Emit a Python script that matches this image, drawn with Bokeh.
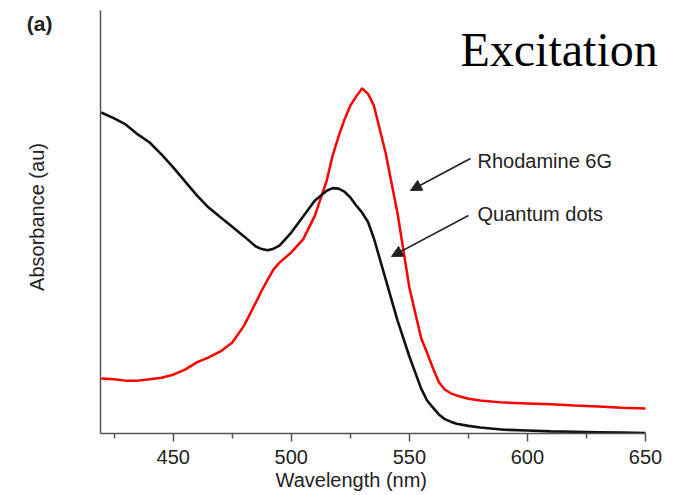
import math
from bokeh.plotting import figure
from bokeh.models import Range1d, FixedTicker, Label, Arrow, NormalHead, Title
from bokeh.embed import file_html
from bokeh.resources import INLINE

# ---- data ----
wavelength = [419.5, 425, 430, 435, 440, 445, 450, 455, 460, 465, 470, 475, 480, 485,
              487.5, 490, 492.5, 495, 500, 505, 510, 515, 517.5, 520, 522.5, 525,
              527.5, 530, 532.5, 535, 540, 545, 550, 555, 557.5, 560, 562.5, 565,
              567.5, 570, 575, 580, 590, 600, 610, 620, 630, 640, 650]
quantum_dots = [0.759, 0.745, 0.730, 0.707, 0.688, 0.660, 0.629, 0.596, 0.563, 0.534,
                0.511, 0.489, 0.466, 0.442, 0.436, 0.433, 0.437, 0.444, 0.475, 0.513,
                0.551, 0.574, 0.580, 0.579, 0.572, 0.558, 0.539, 0.522, 0.500, 0.461,
                0.364, 0.267, 0.182, 0.106, 0.078, 0.061, 0.045, 0.034, 0.028, 0.023,
                0.018, 0.014, 0.009, 0.007, 0.005, 0.004, 0.003, 0.002, 0.001]
rhodamine_6g = [0.130, 0.128, 0.125, 0.125, 0.128, 0.132, 0.139, 0.151, 0.168, 0.180,
                0.194, 0.215, 0.255, 0.310, 0.338, 0.364, 0.388, 0.404, 0.428, 0.459,
                0.515, 0.598, 0.657, 0.702, 0.742, 0.775, 0.797, 0.816, 0.803, 0.775,
                0.662, 0.520, 0.345, 0.225, 0.191, 0.154, 0.121, 0.104, 0.095, 0.090,
                0.082, 0.078, 0.073, 0.071, 0.069, 0.066, 0.064, 0.061, 0.059]
major_ticks = [450, 500, 550, 600, 650]
minor_ticks = [425, 475, 525, 575, 625]
x_start, x_end = 419.2, 650
y_start, y_end = 0.0, 1.0
tag_y = 0.97  # height of the "(a)" panel tag

SANS = "Liberation Sans"
TXT = "#222222"
AXC = "#555555"
PX_PER_NM = 2.3615
PX_PER_UNIT = 423.0

p = figure(width=679, height=495, output_backend="svg", toolbar_location=None,
           x_range=Range1d(x_start, x_end + 20 / PX_PER_NM),
           y_range=Range1d(y_start, y_end + 10 / PX_PER_UNIT),
           min_border_left=100, min_border_right=14, min_border_top=0,
           min_border_bottom=62, outline_line_color=None)
p.grid.visible = False

# x axis
xa = p.xaxis[0]
xa.bounds = (x_start, x_end)
xa.ticker = FixedTicker(ticks=major_ticks, minor_ticks=minor_ticks)
xa.axis_line_color = AXC
xa.axis_line_width = 1.5
xa.major_tick_line_color = AXC
xa.minor_tick_line_color = AXC
xa.major_tick_line_width = 1.5
xa.minor_tick_line_width = 1.5
xa.major_tick_out = 8
xa.major_tick_in = 0
xa.minor_tick_out = 5
xa.minor_tick_in = 0
xa.major_label_standoff = 8
xa.major_label_text_font = SANS
xa.major_label_text_font_size = "20px"
xa.major_label_text_color = TXT

p.add_layout(Title(text="Wavelength (nm)", align="left", offset=175, standoff=0,
                   text_font=SANS, text_font_size="20px", text_font_style="normal",
                   text_color=TXT), "below")

# y axis: no value ticks; the panel tag sits where a tick label would
ya = p.yaxis[0]
ya.bounds = (y_start, y_end)
ya.ticker = FixedTicker(ticks=[tag_y], minor_ticks=[])
ya.major_label_overrides = {tag_y: "(a)"}
ya.major_tick_line_color = None
ya.minor_tick_line_color = None
ya.major_tick_out = 0
ya.major_tick_in = 0
ya.major_label_standoff = 48
ya.major_label_text_font = SANS
ya.major_label_text_font_size = "21px"
ya.major_label_text_font_style = "bold"
ya.major_label_text_color = TXT
ya.axis_line_color = AXC
ya.axis_line_width = 1.5
ya.axis_label = "Absorbance (au)"
ya.axis_label_standoff = -24
ya.axis_label_text_font = SANS
ya.axis_label_text_font_size = "20px"
ya.axis_label_text_font_style = "normal"
ya.axis_label_text_color = TXT

# curves
p.line(wavelength, rhodamine_6g, line_color="#ff0000", line_width=2.5)
p.line(wavelength, quantum_dots, line_color="#111111", line_width=2.6)

def dx(px):
    return x_start + (px - 100) / PX_PER_NM

def dy(py):
    return (433 - py) / PX_PER_UNIT

p.add_layout(Label(x=dx(460), y=dy(49), text="Excitation", text_align="left",
                   text_baseline="alphabetic", text_font="Liberation Serif",
                   text_font_size="48px", text_color="#000000"))

p.add_layout(Label(x=dx(477), y=dy(160), text="Rhodamine 6G", text_align="left",
                   text_baseline="alphabetic", text_font=SANS, text_font_size="20px",
                   text_color=TXT))
p.add_layout(Label(x=dx(477), y=dy(213), text="Quantum dots", text_align="left",
                   text_baseline="alphabetic", text_font=SANS, text_font_size="20px",
                   text_color=TXT))

for (x0, y0, x1, y1) in [(470, 158, 410, 190), (468, 215, 391, 256)]:
    p.add_layout(Arrow(x_start=dx(x0), y_start=dy(y0), x_end=dx(x1), y_end=dy(y1),
                       line_color="#222222", line_width=1.5,
                       end=NormalHead(size=11, fill_color="#222222",
                                      line_color="#222222")))

open("out.html", "w").write(file_html(p, INLINE))
